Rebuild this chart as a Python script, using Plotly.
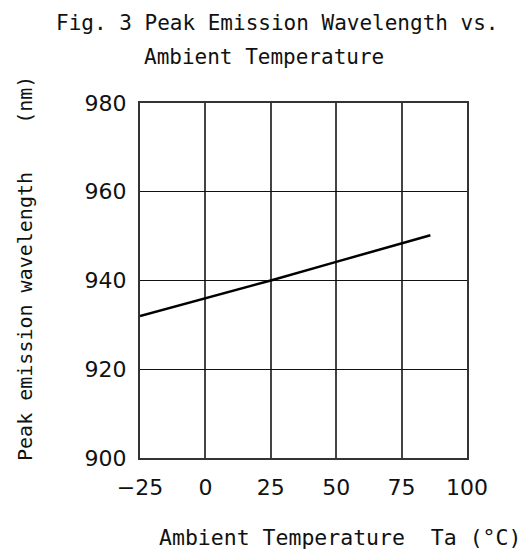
import plotly.graph_objects as go

temps = [-25, 0, 25, 50, 75, 86]
wavelength = [932, 936, 940, 944.2, 948.3, 950.2]
x_ticks = [-25, 0, 25, 50, 75, 100]
y_ticks = [900, 920, 940, 960, 980]

FONT = "DejaVu Sans"
MONO = "DejaVu Sans Mono"

fig = go.Figure()
fig.add_trace(go.Scatter(x=temps, y=wavelength, mode="lines",
                         line=dict(color="black", width=2.5), showlegend=False))

fig.update_layout(
    width=522, height=552,
    margin=dict(l=140, r=55, t=103, b=94),
    plot_bgcolor="white", paper_bgcolor="white",
    font=dict(family=FONT, size=20, color="#111"),
    xaxis=dict(range=[-25, 100], tickvals=x_ticks, showgrid=True,
               gridcolor="#444", gridwidth=2, zeroline=False,
               showline=True, linecolor="#333", linewidth=2, mirror=True,
               ticks="", ticklabelstandoff=9, tickfont=dict(size=22)),
    yaxis=dict(range=[900, 980], tickvals=y_ticks, showgrid=True,
               gridcolor="#111", gridwidth=1.2, zeroline=False,
               showline=True, linecolor="#333", linewidth=2, mirror=True,
               ticks="", ticklabelstandoff=7, tickfont=dict(size=22)),
    annotations=[
        dict(text="Fig. 3 Peak Emission Wavelength vs.", x=0.419, y=1.226,
             xref="paper", yref="paper", showarrow=False,
             xanchor="center", yanchor="middle",
             font=dict(family=MONO, size=21)),
        dict(text="Ambient Temperature", x=0.379, y=1.13,
             xref="paper", yref="paper", showarrow=False,
             xanchor="center", yanchor="middle",
             font=dict(family=MONO, size=21)),
        dict(text="Peak emission wavelength\u00a0\u00a0\u00a0\u00a0(nm)",
             x=-0.352, y=0.535, xref="paper", yref="paper", showarrow=False,
             xanchor="center", yanchor="middle",
             textangle=-90, font=dict(family=MONO, size=20)),
        dict(text="Ambient Temperature\u00a0\u00a0Ta\u00a0(°C)",
             x=0.612, y=-0.225, xref="paper", yref="paper", showarrow=False,
             xanchor="center", yanchor="middle",
             font=dict(family=MONO, size=21.5)),
    ],
)

fig.write_html("out.html")
